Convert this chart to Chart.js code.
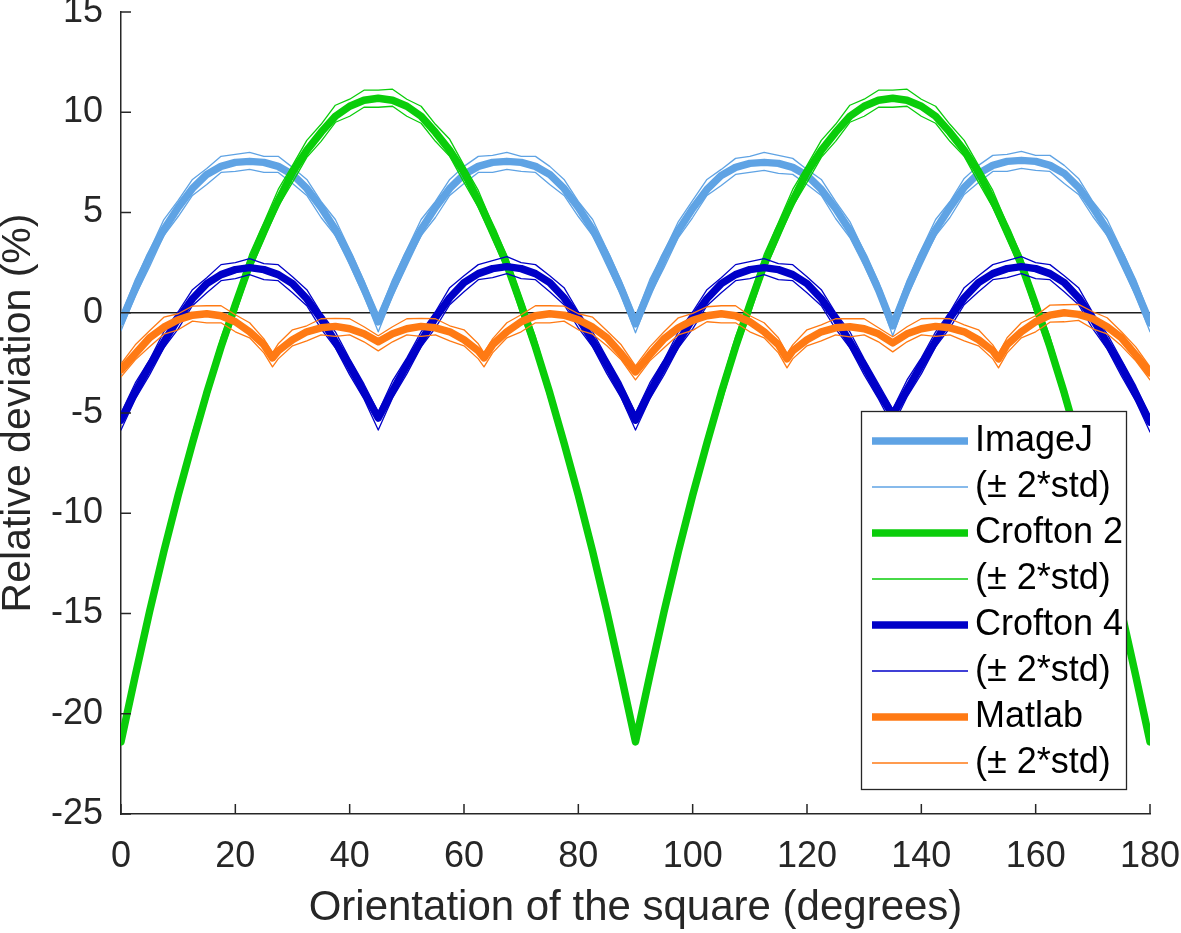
<!DOCTYPE html>
<html>
<head>
<meta charset="utf-8">
<script src="https://cdn.jsdelivr.net/npm/chart.js@4.4.1/dist/chart.umd.min.js"></script>
<style>
html,body{margin:0;padding:0;background:#fff;}
#wrap{width:1181px;height:933px;position:relative;}
</style>
</head>
<body>
<div id="wrap"><canvas id="c"></canvas></div>
<script>
// ---------- data ----------
const angles = [
  0,2.5,5,7.5,10,12.5,15,17.5,20,22.5,25,27.5,30,32.5,35,37.5,40,42.5,
  45,47.5,50,52.5,55,57.5,60,62.5,65,67.5,70,72.5,75,77.5,80,82.5,85,87.5,
  90,92.5,95,97.5,100,102.5,105,107.5,110,112.5,115,117.5,120,122.5,125,127.5,130,132.5,
  135,137.5,140,142.5,145,147.5,150,152.5,155,157.5,160,162.5,165,167.5,170,172.5,175,177.5,
  180];

const imagejMean = [
  -0.45,1.2,2.8,4.15,5.25,6.2,6.9,7.3,7.5,7.55,7.5,7.3,6.9,6.2,5.25,4.15,2.8,1.2,
  -0.45,1.2,2.8,4.15,5.25,6.2,6.9,7.3,7.5,7.55,7.5,7.3,6.9,6.2,5.25,4.15,2.8,1.2,
  -0.55,1.15,2.75,4.1,5.2,6.15,6.85,7.25,7.45,7.5,7.45,7.25,6.85,6.15,5.2,4.1,2.75,1.15,
  -0.65,1.15,2.8,4.15,5.25,6.25,6.95,7.35,7.55,7.6,7.55,7.35,6.95,6.25,5.25,4.15,2.8,1.2,
  -0.5];
const imagejUp = [
  0.3,0.45,0.3,0.5,0.35,0.45,0.3,0.5,0.4,0.45,0.3,0.5,0.35,0.45,0.3,0.5,0.35,0.4,
  0.3,0.45,0.35,0.5,0.3,0.45,0.4,0.5,0.35,0.45,0.3,0.5,0.4,0.45,0.3,0.5,0.35,0.4,
  0.35,0.5,0.3,0.45,0.4,0.5,0.3,0.45,0.35,0.5,0.4,0.45,0.3,0.5,0.35,0.45,0.3,0.4,
  0.3,0.45,0.35,0.5,0.3,0.45,0.4,0.5,0.35,0.45,0.3,0.5,0.4,0.45,0.3,0.5,0.35,0.45,
  0.3];
const imagejDown = [
  0.45,0.35,0.5,0.3,0.45,0.35,0.5,0.3,0.45,0.4,0.5,0.3,0.45,0.35,0.5,0.3,0.4,0.35,
  0.5,0.35,0.45,0.3,0.5,0.35,0.45,0.3,0.5,0.4,0.45,0.3,0.5,0.35,0.45,0.3,0.45,0.35,
  0.45,0.3,0.5,0.35,0.45,0.3,0.5,0.35,0.45,0.4,0.5,0.35,0.45,0.3,0.5,0.35,0.4,0.3,
  0.5,0.35,0.45,0.3,0.5,0.35,0.45,0.3,0.5,0.4,0.45,0.3,0.5,0.35,0.45,0.3,0.45,0.35,
  0.45];

const crofton2Mean = [
  -21.4,-18.1,-14.9,-11.9,-9.1,-6.5,-4.0,-1.7,0.4,2.4,4.1,5.6,7.0,8.1,9.0,9.8,10.3,10.6,
  10.7,10.6,10.3,9.8,9.0,8.1,7.0,5.6,4.1,2.4,0.4,-1.7,-4.0,-6.5,-9.1,-11.9,-14.9,-18.1,
  -21.4,-18.1,-14.9,-11.9,-9.1,-6.5,-4.0,-1.7,0.4,2.4,4.1,5.6,7.0,8.1,9.0,9.8,10.3,10.6,
  10.7,10.6,10.3,9.8,9.0,8.1,7.0,5.6,4.1,2.4,0.4,-1.7,-4.0,-6.5,-9.1,-11.9,-14.9,-18.1,
  -21.4];
const crofton2Up = [
  0.1,0.4,0.35,0.45,0.3,0.5,0.35,0.45,0.3,0.5,0.4,0.55,0.35,0.5,0.4,0.55,0.35,0.5,
  0.4,0.55,0.35,0.5,0.4,0.55,0.35,0.5,0.3,0.45,0.4,0.5,0.3,0.45,0.35,0.5,0.3,0.4,
  0.1,0.45,0.35,0.5,0.3,0.45,0.4,0.5,0.35,0.5,0.4,0.55,0.35,0.5,0.4,0.55,0.35,0.5,
  0.4,0.55,0.35,0.5,0.4,0.5,0.35,0.5,0.3,0.45,0.35,0.5,0.3,0.45,0.35,0.5,0.3,0.4,
  0.1];
const crofton2Down = [
  0.1,0.3,0.45,0.35,0.5,0.3,0.45,0.35,0.5,0.35,0.45,0.3,0.5,0.35,0.45,0.3,0.5,0.35,
  0.45,0.3,0.5,0.35,0.45,0.3,0.5,0.35,0.45,0.3,0.5,0.35,0.45,0.3,0.5,0.35,0.4,0.3,
  0.1,0.3,0.5,0.35,0.45,0.3,0.5,0.35,0.5,0.35,0.45,0.3,0.5,0.35,0.45,0.3,0.5,0.35,
  0.45,0.3,0.5,0.35,0.45,0.3,0.5,0.35,0.45,0.3,0.5,0.35,0.45,0.3,0.5,0.35,0.4,0.3,
  0.1];

const crofton4Mean = [
  -5.35,-3.95,-2.65,-1.45,-0.3,0.7,1.45,1.9,2.15,2.25,2.15,1.9,1.45,0.7,-0.3,-1.45,-2.65,-3.95,
  -5.25,-3.9,-2.6,-1.4,-0.25,0.75,1.5,1.95,2.2,2.3,2.2,1.95,1.5,0.75,-0.25,-1.4,-2.6,-3.9,
  -5.35,-3.95,-2.65,-1.45,-0.3,0.7,1.45,1.9,2.15,2.25,2.15,1.9,1.45,0.7,-0.3,-1.45,-2.65,-3.95,
  -5.1,-3.85,-2.6,-1.4,-0.25,0.75,1.5,1.95,2.2,2.3,2.2,1.95,1.5,0.75,-0.3,-1.5,-2.7,-4.05,
  -5.45];
const crofton4Up = [
  0.35,0.45,0.3,0.5,0.35,0.45,0.3,0.5,0.35,0.45,0.3,0.5,0.35,0.45,0.3,0.5,0.35,0.4,
  0.3,0.5,0.35,0.45,0.3,0.5,0.35,0.45,0.4,0.5,0.3,0.45,0.35,0.5,0.3,0.45,0.35,0.4,
  0.35,0.45,0.3,0.5,0.35,0.45,0.3,0.5,0.4,0.45,0.3,0.5,0.35,0.45,0.3,0.5,0.35,0.4,
  0.3,0.5,0.35,0.45,0.3,0.5,0.35,0.45,0.4,0.5,0.3,0.45,0.35,0.5,0.3,0.45,0.35,0.4,
  0.3];
const crofton4Down = [
  0.5,0.35,0.45,0.3,0.5,0.35,0.45,0.3,0.45,0.35,0.5,0.3,0.45,0.35,0.5,0.3,0.45,0.35,
  0.6,0.35,0.45,0.3,0.5,0.35,0.45,0.3,0.45,0.35,0.5,0.3,0.45,0.35,0.5,0.3,0.45,0.35,
  0.5,0.35,0.45,0.3,0.5,0.35,0.45,0.3,0.45,0.35,0.5,0.3,0.45,0.35,0.5,0.3,0.45,0.35,
  0.55,0.35,0.45,0.3,0.5,0.35,0.45,0.3,0.45,0.35,0.5,0.3,0.45,0.35,0.5,0.3,0.45,0.35,
  0.5];

const matlabAngles = [
  0,2.5,5,7.5,10,12.5,15,17.5,20,22.5,25,26.5,27.5,30,32.5,35,37.5,40,42.5,
  45,47.5,50,52.5,55,57.5,60,62.5,63.5,65,67.5,70,72.5,75,77.5,80,82.5,85,87.5,
  90,92.5,95,97.5,100,102.5,105,107.5,110,112.5,115,116.5,117.5,120,122.5,125,127.5,130,132.5,
  135,137.5,140,142.5,145,147.5,150,152.5,153.5,155,157.5,160,162.5,165,167.5,170,172.5,175,177.5,
  180];
const matlabMean = [
  -2.85,-2.05,-1.25,-0.72,-0.35,-0.12,-0.05,-0.15,-0.45,-0.95,-1.6,-2.25,-1.9,-1.35,-0.95,-0.75,-0.68,-0.8,-1.05,
  -1.45,-1.05,-0.8,-0.68,-0.75,-0.95,-1.35,-1.9,-2.25,-1.6,-0.95,-0.45,-0.15,-0.05,-0.12,-0.35,-0.72,-1.25,-2.05,
  -2.95,-2.1,-1.3,-0.75,-0.38,-0.15,-0.05,-0.15,-0.45,-0.95,-1.6,-2.3,-1.9,-1.35,-0.95,-0.75,-0.7,-0.8,-1.05,
  -1.5,-1.05,-0.8,-0.68,-0.75,-0.95,-1.35,-1.9,-2.3,-1.6,-0.95,-0.45,-0.12,0.0,-0.08,-0.3,-0.7,-1.25,-2.1,
  -3.0];
const matlabUp = [
  0.3,0.45,0.35,0.5,0.3,0.45,0.4,0.5,0.35,0.45,0.3,0.25,0.35,0.5,0.3,0.45,0.4,0.5,0.35,
  0.3,0.35,0.5,0.4,0.45,0.3,0.5,0.35,0.25,0.3,0.45,0.35,0.5,0.4,0.45,0.3,0.5,0.35,0.45,
  0.3,0.4,0.35,0.5,0.35,0.45,0.4,0.5,0.3,0.45,0.35,0.25,0.3,0.5,0.35,0.45,0.4,0.5,0.3,
  0.3,0.35,0.5,0.4,0.45,0.35,0.5,0.3,0.25,0.35,0.45,0.3,0.5,0.4,0.5,0.35,0.45,0.3,0.4,
  0.3];
const matlabDown = [
  0.35,0.3,0.45,0.35,0.5,0.3,0.45,0.35,0.5,0.3,0.4,0.45,0.4,0.3,0.45,0.35,0.5,0.3,0.4,
  0.45,0.4,0.3,0.5,0.35,0.45,0.3,0.4,0.45,0.4,0.3,0.5,0.35,0.45,0.3,0.5,0.35,0.4,0.3,
  0.4,0.3,0.45,0.35,0.5,0.3,0.45,0.35,0.5,0.3,0.4,0.45,0.4,0.3,0.45,0.35,0.5,0.3,0.4,
  0.45,0.4,0.3,0.5,0.35,0.45,0.3,0.4,0.45,0.4,0.3,0.5,0.35,0.45,0.3,0.5,0.35,0.4,0.3,
  0.35];

const zeroX = [0, 180];
const zeroY = [0, 0];

const xTickStep = 20, yTickStep = 5;
const legendLabels = ['ImageJ','(\u00B1 2*std)','Crofton 2','(\u00B1 2*std)','Crofton 4','(\u00B1 2*std)','Matlab','(\u00B1 2*std)'];

// ---------- styles ----------
const colImageJ = 'rgb(95,163,228)';
const colC2 = 'rgb(10,205,10)';
const colC4 = 'rgb(0,0,200)';
const colMatlab = 'rgb(255,122,20)';
const thick = 7.5, thin = 1.3;

function pts(xs, ys) { return xs.map((x, i) => ({x: x, y: ys[i]})); }
function offset(ys, offs, sign) { return ys.map((y, i) => y + sign * offs[i]); }

function line(label, xs, ys, color, width, order) {
  return { label, data: pts(xs, ys), borderColor: color, backgroundColor: color,
    borderWidth: width, pointRadius: 0, tension: 0, fill: false, order,
    borderJoinStyle: 'round', borderCapStyle: 'round' };
}

const datasets = [
  line('zero', zeroX, zeroY, 'rgb(30,30,30)', 1.3, 100),
  line('ImageJ', angles, imagejMean, colImageJ, thick, 20),
  line('ImageJ +2std', angles, offset(imagejMean, imagejUp, 1), colImageJ, thin, 19),
  line('ImageJ -2std', angles, offset(imagejMean, imagejDown, -1), colImageJ, thin, 18),
  line('Crofton 2', angles, crofton2Mean, colC2, thick, 17),
  line('Crofton 2 +2std', angles, offset(crofton2Mean, crofton2Up, 1), colC2, thin, 16),
  line('Crofton 2 -2std', angles, offset(crofton2Mean, crofton2Down, -1), colC2, thin, 15),
  line('Crofton 4', angles, crofton4Mean, colC4, thick, 14),
  line('Crofton 4 +2std', angles, offset(crofton4Mean, crofton4Up, 1), colC4, thin, 13),
  line('Crofton 4 -2std', angles, offset(crofton4Mean, crofton4Down, -1), colC4, thin, 12),
  line('Matlab', matlabAngles, matlabMean, colMatlab, thick, 11),
  line('Matlab +2std', matlabAngles, offset(matlabMean, matlabUp, 1), colMatlab, thin, 10),
  line('Matlab -2std', matlabAngles, offset(matlabMean, matlabDown, -1), colMatlab, thin, 9)
];

const legendStyles = [
  [colImageJ, thick], [colImageJ, thin], [colC2, thick], [colC2, thin],
  [colC4, thick], [colC4, thin], [colMatlab, thick], [colMatlab, thin]
];

const axisColor = '#262626';
const fontFamily = '"Liberation Sans", Arial, Helvetica, sans-serif';
Chart.defaults.font.family = fontFamily;

const inwardTicks = {
  id: 'inwardTicks',
  afterDatasetsDraw(chart) {
    const {ctx, chartArea: a, scales: {x, y}} = chart;
    ctx.save();
    ctx.strokeStyle = axisColor;
    ctx.lineWidth = 1.5;
    ctx.beginPath();
    x.ticks.forEach(t => { const px = x.getPixelForValue(t.value); ctx.moveTo(px, a.bottom); ctx.lineTo(px, a.bottom - 10); });
    y.ticks.forEach(t => { const py = y.getPixelForValue(t.value); ctx.moveTo(a.left, py); ctx.lineTo(a.left + 10, py); });
    ctx.stroke();
    ctx.restore();
  }
};

const boxLegend = {
  id: 'boxLegend',
  afterDatasetsDraw(chart) {
    const {ctx, chartArea: a} = chart;
    const w = 265, h = 378;
    const left = a.right - 24 - w, top = a.bottom - 25 - h;
    ctx.save();
    ctx.fillStyle = '#ffffff';
    ctx.fillRect(left, top, w, h);
    ctx.strokeStyle = axisColor;
    ctx.lineWidth = 1.3;
    ctx.strokeRect(left + 0.5, top + 0.5, w, h);
    ctx.font = '36px ' + fontFamily;
    ctx.textBaseline = 'middle';
    ctx.textAlign = 'left';
    legendLabels.forEach((lab, i) => {
      const yy = top + 30 + 46 * i;
      ctx.beginPath();
      ctx.moveTo(left + 11, yy);
      ctx.lineTo(left + 107, yy);
      ctx.strokeStyle = legendStyles[i][0];
      ctx.lineWidth = legendStyles[i][1];
      ctx.lineCap = 'butt';
      ctx.stroke();
      ctx.fillStyle = '#000000';
      ctx.fillText(lab, left + 114, yy);
    });
    ctx.restore();
  }
};

new Chart(document.getElementById('c'), {
  type: 'line',
  data: { datasets },
  options: {
    responsive: true,
    maintainAspectRatio: false,
    animation: false,
    devicePixelRatio: 1,
    layout: { autoPadding: false, padding: { top: 12, right: 31, left: 0, bottom: 0 } },
    plugins: { legend: { display: false }, tooltip: { enabled: false } },
    scales: {
      x: {
        type: 'linear', min: 0, max: 180,
        ticks: { stepSize: xTickStep, color: axisColor, font: { size: 36 }, padding: 21, maxRotation: 0, autoSkip: false },
        grid: { display: false, drawTicks: false },
        border: { display: true, color: axisColor, width: 1.5 },
        title: { display: true, text: 'Orientation of the square (degrees)', color: axisColor,
                 font: { size: 42, lineHeight: 0.9 }, padding: { top: 0, bottom: 6 } },
        afterFit(s) { s.height = 119; s.paddingLeft = 0; s.paddingRight = 0; s.paddingTop = 0; s.paddingBottom = 0; }
      },
      y: {
        type: 'linear', min: -25, max: 15,
        ticks: { stepSize: yTickStep, color: axisColor, font: { size: 36 }, padding: 18 },
        grid: { display: false, drawTicks: false },
        border: { display: true, color: axisColor, width: 1.5 },
        title: { display: true, text: 'Relative deviation (%)', color: axisColor,
                 font: { size: 41, lineHeight: 0.9 }, padding: { top: 0, bottom: 0 } },
        afterFit(s) { s.width = 121; s.paddingLeft = 0; s.paddingRight = 0; s.paddingTop = 0; s.paddingBottom = 0; }
      }
    }
  },
  plugins: [inwardTicks, boxLegend]
});
</script>
</body>
</html>
